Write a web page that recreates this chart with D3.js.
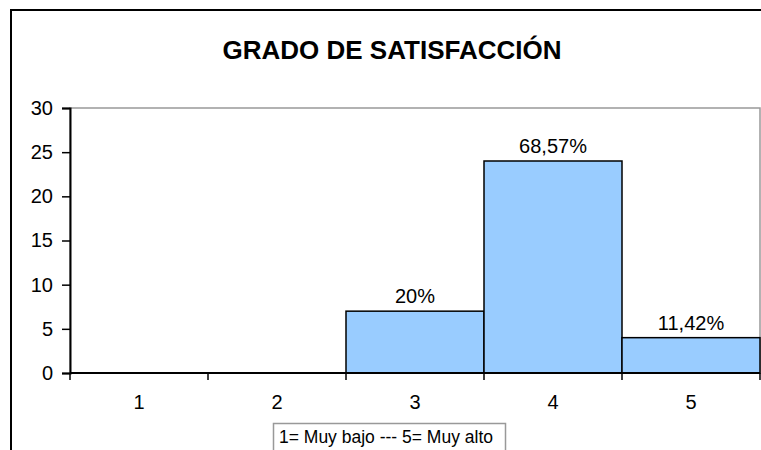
<!DOCTYPE html>
<html>
<head>
<meta charset="utf-8">
<script src="https://cdn.jsdelivr.net/npm/d3@7"></script>
<style>
  body { margin: 0; background: #fff; }
  svg { display: block; font-family: "Liberation Sans", Arial, sans-serif; }
</style>
</head>
<body>
<script>
// Data
var categories = ["1", "2", "3", "4", "5"];
var values = [0, 0, 7, 24, 4];
var labels = ["", "", "20%", "68,57%", "11,42%"];
var yTicks = [0, 5, 10, 15, 20, 25, 30];
var titleText = "GRADO DE SATISFACCIÓN";
var legendText = "1= Muy bajo --- 5= Muy alto";

// Chart config
var W = 761, H = 450;
var margin = {top: 108, right: 1, bottom: 77, left: 70};
var width = W - margin.left - margin.right,
    height = H - margin.top - margin.bottom;

var svg = d3.select("body").append("svg")
    .attr("width", W)
    .attr("height", H);

// outer chart frame
svg.append("rect")
    .attr("x", 11).attr("y", 10)
    .attr("width", 780).attr("height", 480)
    .attr("fill", "#fff")
    .attr("stroke", "#000")
    .attr("stroke-width", 2);

svg.append("text")
    .attr("x", 392).attr("y", 59)
    .attr("text-anchor", "middle")
    .style("font-size", "26px")
    .style("font-weight", "bold")
    .text(titleText);

var xScale = d3.scaleBand().domain(categories).range([0, width]).padding(0);
var yScale = d3.scaleLinear().domain([0, 30]).range([height, 0]);

var g = svg.append("g")
    .attr("transform", "translate(" + margin.left + "," + margin.top + ")");

// plot area border
g.append("rect")
    .attr("x", 0).attr("y", 0)
    .attr("width", width).attr("height", height)
    .attr("fill", "none")
    .attr("stroke", "#999")
    .attr("stroke-width", 1.5);

// bars
g.selectAll(".bar").data(values).enter().append("rect")
    .attr("class", "bar")
    .attr("x", function(d, i) { return xScale(categories[i]); })
    .attr("y", function(d) { return yScale(d); })
    .attr("width", xScale.bandwidth())
    .attr("height", function(d) { return height - yScale(d); })
    .attr("fill", "#99ccff")
    .attr("stroke", "#000")
    .attr("stroke-width", 1.5)
    .style("display", function(d) { return d > 0 ? null : "none"; });

// value labels
g.selectAll(".lbl").data(values).enter().append("text")
    .attr("class", "lbl")
    .attr("x", function(d, i) { return xScale(categories[i]) + xScale.bandwidth() / 2; })
    .attr("y", function(d) { return yScale(d) - 8; })
    .attr("text-anchor", "middle")
    .style("font-size", "20px")
    .text(function(d, i) { return labels[i]; });

// Y axis
var yAxis = d3.axisLeft(yScale).tickValues(yTicks).tickSize(8).tickPadding(9);
var yAxisEl = g.append("g").call(yAxis);
yAxisEl.selectAll("text").style("font-size", "20px").attr("fill", "#000");
yAxisEl.select(".domain").attr("stroke-width", 2);
yAxisEl.selectAll(".tick line").attr("stroke-width", 1.5);

// X axis with ticks at category boundaries
var xAxisEl = g.append("g").attr("transform", "translate(0," + height + ")");
xAxisEl.append("line")
    .attr("x1", 0).attr("x2", width)
    .attr("stroke", "#000").attr("stroke-width", 2);
xAxisEl.selectAll(".tk").data(categories.concat(["end"])).enter().append("line")
    .attr("class", "tk")
    .attr("x1", function(d, i) { return i * xScale.step(); })
    .attr("x2", function(d, i) { return i * xScale.step(); })
    .attr("y1", 0).attr("y2", 7)
    .attr("stroke", "#000").attr("stroke-width", 1.5);
xAxisEl.selectAll(".xl").data(categories).enter().append("text")
    .attr("class", "xl")
    .attr("x", function(d) { return xScale(d) + xScale.bandwidth() / 2; })
    .attr("y", 36)
    .attr("text-anchor", "middle")
    .style("font-size", "20px")
    .text(function(d) { return d; });

// legend box
var leg = svg.append("g");
leg.append("rect")
    .attr("x", 273.5).attr("y", 423.5)
    .attr("width", 232).attr("height", 40)
    .attr("fill", "#fff")
    .attr("stroke", "#999")
    .attr("stroke-width", 1.5);
leg.append("text")
    .attr("x", 279).attr("y", 443)
    .style("font-size", "17.5px")
    .text(legendText);
</script>
</body>
</html>
